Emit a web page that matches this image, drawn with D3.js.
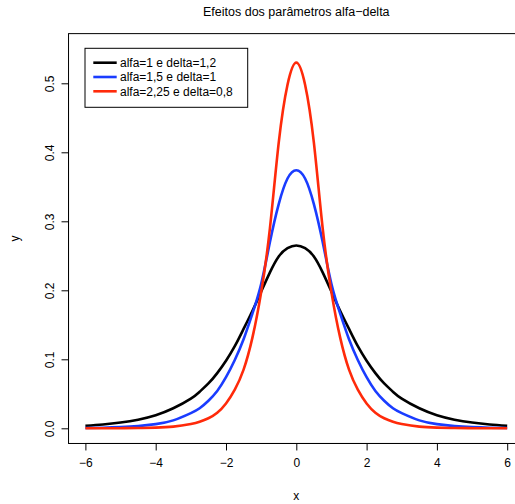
<!DOCTYPE html>
<html>
<head>
<meta charset="utf-8">
<script src="https://cdn.jsdelivr.net/npm/d3@7"></script>
<style>
  html, body { margin: 0; padding: 0; background: #fff; }
  svg { display: block; font-family: "Liberation Sans", Arial, Helvetica, sans-serif; }
</style>
</head>
<body>
<svg id="chart" width="515" height="504"></svg>
<script>
// Density curves for three alfa/delta settings, sampled on a common x grid
const xGrid = [-6, -5.5, -5, -4.5, -4, -3.5, -3, -2.75, -2.5, -2.25, -2, -1.75, -1.5, -1.25, -1, -0.75, -0.5, -0.25,
               0, 0.25, 0.5, 0.75, 1, 1.25, 1.5, 1.75, 2, 2.25, 2.5, 2.75, 3, 3.5, 4, 4.5, 5, 5.5, 6];

const yBlack = [0.0036, 0.0055, 0.0083, 0.0125, 0.019, 0.029, 0.043, 0.053, 0.065, 0.080, 0.098, 0.119, 0.144, 0.170, 0.198, 0.226, 0.249, 0.261,
                0.265, 0.261, 0.249, 0.226, 0.198, 0.170, 0.144, 0.119, 0.098, 0.080, 0.065, 0.053, 0.043, 0.029, 0.019, 0.0125, 0.0083, 0.0055, 0.0036];

const yBlue = [0.0005, 0.0009, 0.0017, 0.0032, 0.0060, 0.0115, 0.022, 0.029, 0.040, 0.054, 0.074, 0.099, 0.129, 0.166, 0.209, 0.270, 0.325, 0.362,
               0.374, 0.362, 0.325, 0.270, 0.209, 0.166, 0.129, 0.099, 0.074, 0.054, 0.040, 0.029, 0.022, 0.0115, 0.0060, 0.0032, 0.0017, 0.0009, 0.0005];

const yRed = [0.00002, 0.00006, 0.00016, 0.0004, 0.001, 0.0024, 0.0062, 0.0094, 0.0145, 0.0225, 0.036, 0.056, 0.085, 0.131, 0.197, 0.290, 0.414, 0.498,
              0.530, 0.498, 0.414, 0.290, 0.197, 0.131, 0.085, 0.056, 0.036, 0.0225, 0.0145, 0.0094, 0.0062, 0.0024, 0.001, 0.0004, 0.00016, 0.00006, 0.00002];

const seriesLabels = ["alfa=1 e delta=1,2", "alfa=1,5 e delta=1", "alfa=2,25 e delta=0,8"];
const seriesColors = ["#000000", "#1a3cff", "#ff2a0a"];

const xTicks = [-6, -4, -2, 0, 2, 4, 6];
const yTicks = [0.0, 0.1, 0.2, 0.3, 0.4, 0.5];

const titleText = "Efeitos dos parâmetros alfa\u2212delta";
const xLabel = "x";
const yLabel = "y";

// ---- drawing ----
const svg = d3.select("#chart");

// Data ranges padded by 4% on each side, as in a classic base plot
const xLim = [-6, 6], yLim = [0, 0.55];
const xPad = (xLim[1] - xLim[0]) * 0.04, yPad = (yLim[1] - yLim[0]) * 0.04;

const x = d3.scaleLinear().domain(xLim).range([85.4, 507.2]);
const y = d3.scaleLinear().domain([0, 0.5]).range([428.3, 83.3]);

const box = {
  x0: x(xLim[0] - xPad), x1: x(xLim[1] + xPad),
  y0: y(yLim[1] + yPad), y1: y(yLim[0] - yPad)
};

const fmtMinus = v => (v < 0 ? "\u2212" + Math.abs(v) : String(v));

// plot frame
svg.append("rect")
  .attr("x", box.x0).attr("y", box.y0)
  .attr("width", box.x1 - box.x0).attr("height", box.y1 - box.y0)
  .attr("fill", "none").attr("stroke", "#000").attr("stroke-width", 1);

// x axis
const xAxis = d3.axisBottom(x).tickValues(xTicks).tickSize(7).tickPadding(8).tickFormat(fmtMinus);
const gx = svg.append("g").attr("transform", `translate(0,${box.y1})`).call(xAxis);
gx.select(".domain").attr("d", `M${x(xTicks[0])},0H${x(xTicks[xTicks.length - 1])}`);

// y axis (labels rotated parallel to the axis)
const yAxis = d3.axisLeft(y).tickValues(yTicks).tickSize(7).tickFormat(d3.format(".1f"));
const gy = svg.append("g").attr("transform", `translate(${box.x0},0)`).call(yAxis);
gy.select(".domain").attr("d", `M0,${y(yTicks[0])}V${y(yTicks[yTicks.length - 1])}`);
gy.selectAll(".tick text")
  .attr("x", 0).attr("dy", null)
  .attr("transform", "translate(-19,0) rotate(-90)")
  .attr("text-anchor", "middle")
  .attr("dominant-baseline", "central");

svg.selectAll(".tick text").attr("font-size", 12).attr("fill", "#000")
  .attr("font-family", "'Liberation Sans', Arial, sans-serif");
svg.selectAll(".tick line, .domain").attr("stroke", "#000");

// curves
const series = [yBlack, yBlue, yRed];
const line = d3.line().x(d => x(d[0])).y(d => y(d[1])).curve(d3.curveNatural);
series.forEach((vals, i) => {
  svg.append("path")
    .datum(xGrid.map((xv, j) => [xv, vals[j]]))
    .attr("d", line)
    .attr("fill", "none")
    .attr("stroke", seriesColors[i])
    .attr("stroke-width", 2.6)
    .attr("stroke-linejoin", "round");
});

// title and axis labels
svg.append("text").attr("x", (box.x0 + box.x1) / 2).attr("y", 16)
  .attr("text-anchor", "middle").attr("font-size", 12.5).text(titleText);
svg.append("text").attr("x", (box.x0 + box.x1) / 2).attr("y", 500)
  .attr("text-anchor", "middle").attr("font-size", 12).text(xLabel);
svg.append("text").attr("transform", `translate(19,${(box.y0 + box.y1) / 2}) rotate(-90)`)
  .attr("text-anchor", "middle").attr("font-size", 12).text(yLabel);

// legend
const leg = svg.append("g");
leg.append("rect").attr("x", 85).attr("y", 48.3).attr("width", 162.7).attr("height", 59)
  .attr("fill", "#fff").attr("stroke", "#000").attr("stroke-width", 1);
seriesLabels.forEach((lab, i) => {
  const yy = 62.7 + i * 14.3;
  leg.append("line").attr("x1", 93.3).attr("x2", 116.7).attr("y1", yy).attr("y2", yy)
    .attr("stroke", seriesColors[i]).attr("stroke-width", 2.6);
  leg.append("text").attr("x", 120).attr("y", yy).attr("dy", "0.35em")
    .attr("font-size", 12).text(lab);
});
</script>
</body>
</html>
